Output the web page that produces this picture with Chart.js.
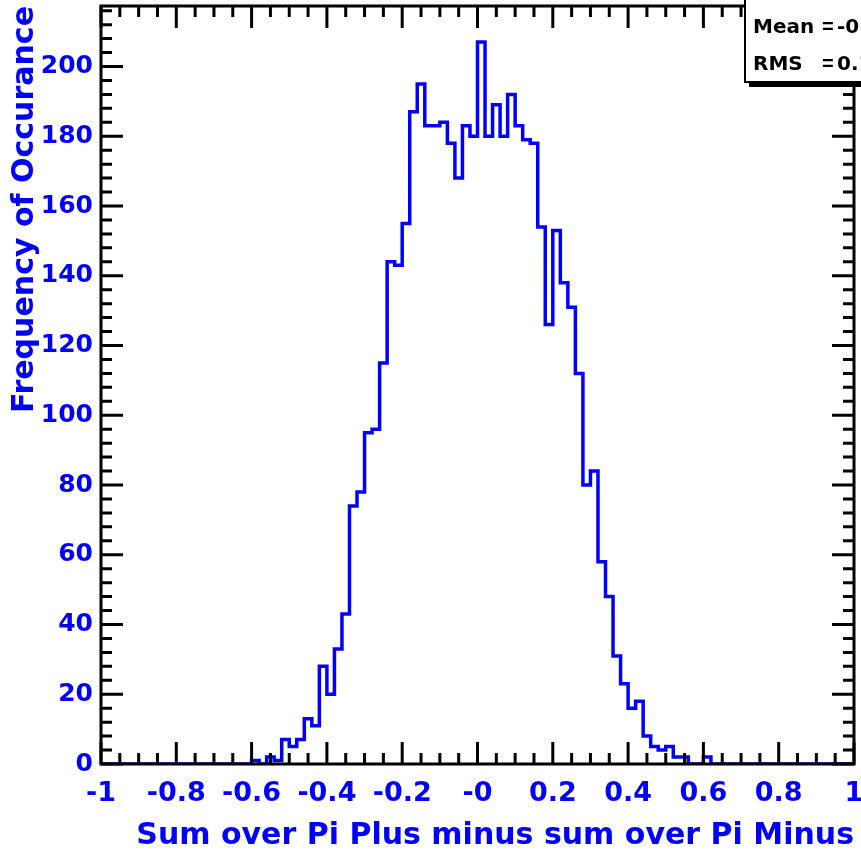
<!DOCTYPE html>
<html>
<head>
<meta charset="utf-8">
<script src="https://cdn.jsdelivr.net/npm/chart.js@4.4.1/dist/chart.umd.min.js"></script>
<style>
  html, body { margin: 0; padding: 0; background: #fff; }
  canvas { display: block; }
</style>
</head>
<body>
<canvas id="chart1" width="861" height="853"></canvas>
<script>
//histogram binning
const xMin = -1
const xMax = 1
const nBins = 100

//entries per bin, left to right
const counts = [
    0, 0, 0, 0, 0, 0, 0, 0, 0, 0,
    0, 0, 0, 0, 0, 0, 0, 0, 0, 0,
    1, 0, 2, 1, 7, 5, 7, 13, 11, 28,
    20, 33, 43, 74, 78, 95, 96, 115, 144, 143,
    155, 187, 195, 183, 183, 184, 178, 168, 183, 180,
    207, 180, 189, 180, 192, 183, 179, 178, 154, 126,
    153, 138, 131, 112, 80, 84, 58, 48, 31, 23,
    16, 18, 8, 5, 4, 5, 2, 2, 0, 0,
    2, 0, 0, 0, 0, 0, 0, 0, 0, 0,
    0, 0, 0, 0, 0, 0, 0, 0, 0, 0
]

//axis labels
const xTickLabels = ['-1', '-0.8', '-0.6', '-0.4', '-0.2', '-0', '0.2', '0.4', '0.6', '0.8', '1']
const xTitle = 'Sum over Pi Plus minus sum over Pi Minus'
const yTitle = 'Frequency of Occurance'
const statNames = ['Mean', 'RMS']

const binWidth = (xMax - xMin) / nBins
const yMax = Math.max(...counts) * 1.05

//step points at the low edge of every bin, plus the closing edge
const points = counts.map((c, i) => ({x: xMin + i * binWidth, y: c}))
points.push({x: xMax, y: counts[nBins - 1]})

//mean and rms from bin centres
calcStats = function(arr) {
    let n = 0, sx = 0, sxx = 0
    arr.forEach((c, i) => {
        const x = xMin + (i + 0.5) * binWidth
        n += c
        sx += c * x
        sxx += c * x * x
    })
    const mean = sx / n
    return [mean, Math.sqrt(sxx / n - mean * mean)]
}

const blue = '#0000ff'
Chart.defaults.font.family = "'DejaVu Sans', sans-serif"

//frame with inward ticks on all four sides
const framePlugin = {
    id: 'frame',
    afterDatasetsDraw(chart) {
        const {ctx, chartArea: a, scales: {x, y}} = chart
        ctx.save()
        ctx.strokeStyle = '#000'
        ctx.lineWidth = 3
        ctx.lineCap = 'butt'
        ctx.beginPath()
        for (let i = 0; i <= 40; i++) {
            const px = x.getPixelForValue(xMin + i * 0.05)
            const len = i % 4 == 0 ? 22 : 11
            ctx.moveTo(px, a.bottom); ctx.lineTo(px, a.bottom - len)
            ctx.moveTo(px, a.top); ctx.lineTo(px, a.top + len)
        }
        for (let v = 0; v <= yMax; v += 4) {
            const py = y.getPixelForValue(v)
            const len = v % 20 == 0 ? 22 : 11
            ctx.moveTo(a.left, py); ctx.lineTo(a.left + len, py)
            ctx.moveTo(a.right, py); ctx.lineTo(a.right - len, py)
        }
        ctx.stroke()
        ctx.strokeRect(a.left, a.top, a.right - a.left, a.bottom - a.top)
        ctx.restore()
    },
    afterDraw(chart) {
        const ctx = chart.ctx
        const stats = calcStats(counts)
        ctx.save()
        //shadow then box
        ctx.fillStyle = '#000'
        ctx.fillRect(749, -5, 200, 92)
        ctx.fillStyle = '#fff'
        ctx.fillRect(745, -5, 200, 87)
        ctx.strokeStyle = '#000'
        ctx.lineWidth = 2
        ctx.strokeRect(745, -5, 200, 87)
        ctx.fillStyle = '#000'
        ctx.textBaseline = 'alphabetic'
        statNames.forEach((name, i) => {
            const base = 33 + i * 37
            ctx.font = "bold 20px 'DejaVu Sans'"
            ctx.fillText(name, 753, base)
            ctx.fillText(stats[i].toFixed(6), 837, base)
            ctx.font = "bold 20px 'Liberation Sans'"
            ctx.fillText('=', 822, base)
        })
        ctx.restore()
    }
}

//fix the plot frame position
fixX = function(scale) {
    scale.height = 89
    scale.paddingLeft = scale.paddingRight = scale.paddingTop = scale.paddingBottom = 0
}
fixY = function(scale) {
    scale.width = 101
    scale.paddingLeft = scale.paddingRight = scale.paddingTop = scale.paddingBottom = 0
}

const data = {
    datasets: [{
        label: 'hist',
        data: points,
        stepped: true,
        borderColor: blue,
        borderWidth: 3.5,
        borderJoinStyle: 'miter',
        pointRadius: 0,
        fill: false
    }]
}

const config = {
    type: 'line',
    data: data,
    options: {
        responsive: false,
        animation: false,
        devicePixelRatio: 1,
        layout: {padding: {left: 0, top: 6, right: 7, bottom: 0}},
        plugins: {
            legend: {display: false},
            tooltip: {enabled: false}
        },
        scales: {
            x: {
                type: 'linear',
                min: xMin,
                max: xMax,
                afterFit: fixX,
                grid: {display: false, drawTicks: false},
                border: {display: false},
                ticks: {
                    stepSize: 0.2,
                    autoSkip: false,
                    maxRotation: 0,
                    padding: 14,
                    color: blue,
                    font: {size: 27, weight: 'bold'},
                    callback: (v, i) => xTickLabels[i]
                },
                title: {
                    display: true,
                    text: xTitle,
                    align: 'end',
                    color: blue,
                    font: {size: 30, weight: 'bold', lineHeight: 1},
                    padding: {top: 0, bottom: 2}
                }
            },
            y: {
                min: 0,
                max: yMax,
                afterFit: fixY,
                grid: {display: false, drawTicks: false},
                border: {display: false},
                ticks: {
                    stepSize: 20,
                    includeBounds: false,
                    autoSkip: false,
                    padding: 8,
                    color: blue,
                    font: {size: 25, weight: 'bold'},
                    callback: v => String(v)
                },
                title: {
                    display: true,
                    text: yTitle,
                    align: 'end',
                    color: blue,
                    font: {size: 30, weight: 'bold', lineHeight: 1},
                    padding: {top: 10, bottom: 0}
                }
            }
        }
    },
    plugins: [framePlugin]
}

const Chart1 = new Chart(document.getElementById('chart1'), config)
</script>
</body>
</html>
